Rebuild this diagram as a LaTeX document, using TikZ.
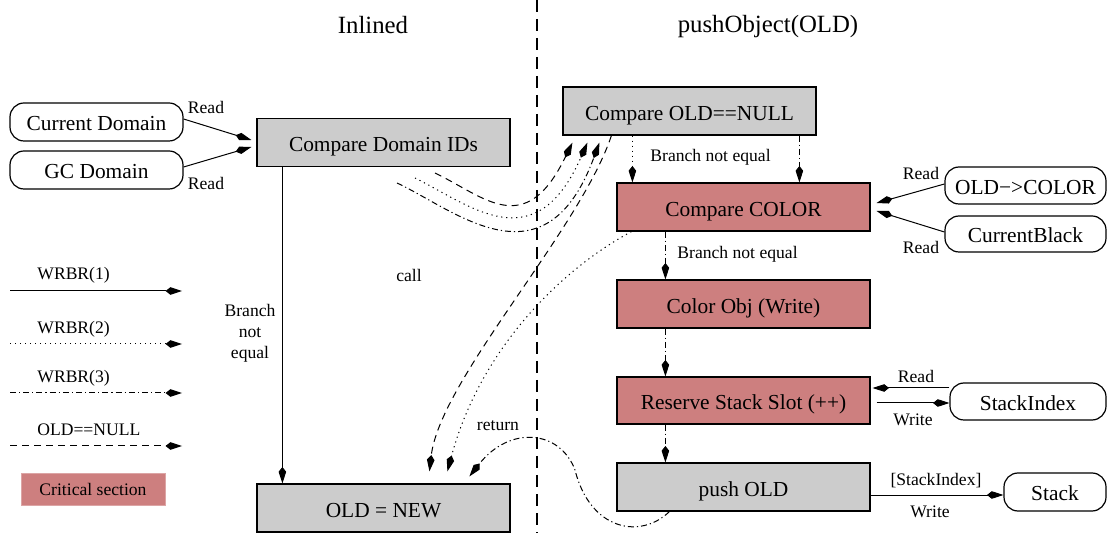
\documentclass[tikz,border=0pt]{standalone}
\usepackage{fontspec}
\setmainfont{Liberation Serif}
\usetikzlibrary{arrows.meta,calc}
\definecolor{crit}{RGB}{205,127,127}
\definecolor{plain}{RGB}{204,204,204}
\tikzset{
  stepbox/.style={draw, line width=0.6pt, minimum width=126.5pt, minimum height=24pt,
    inner sep=0pt, text height=9.5pt, text depth=0pt, font=\fontsize{10.7}{12}\selectfont},
  greybox/.style={stepbox, fill=plain},
  critbox/.style={stepbox, fill=crit},
  datum/.style={draw, line width=0.6pt, rounded corners=7pt, inner sep=0pt,
    minimum height=19pt, text height=9pt, text depth=0pt, font=\fontsize{10.7}{12}\selectfont},
  lbl/.style={font=\fontsize{8.8}{10.5}\selectfont, inner sep=0pt},
  ttl/.style={font=\fontsize{12.4}{14}\selectfont, inner sep=0pt},
  tip/.style={-{Kite[length=8.2pt,width=3.8pt,inset=2.4pt]}},
  wire/.style={line width=0.5pt},
  ldash/.style={dash pattern=on 3.5pt off 2.5pt},
  ldot/.style={dash pattern=on 0.6pt off 1.9pt},
  ldashdot/.style={dash pattern=on 3pt off 1.5pt on 0.6pt off 1.5pt},
}
\begin{document}
\begin{tikzpicture}[x=0.5pt,y=-0.5pt]
\useasboundingbox (0,0) rectangle (1107,533);

% column titles and divider
\node[ttl] (ttlA) at (373,25) {Inlined};
\node[ttl] (ttlB) at (768,27) {pushObject(OLD)};
\coordinate (divtop) at (537,0);
\coordinate (divbot) at (537,533);
\draw[line width=1pt, dash pattern=on 6pt off 3.5pt] (divtop) -- (divbot);

% boxes
\node[datum, minimum width=86.5pt] (cdom) at (96.5,122) {Current Domain};
\node[datum, minimum width=86.5pt] (gcdom) at (96.5,170) {GC Domain};
\node[greybox] (cmpdom) at (383.5,142.5) {Compare Domain IDs};
\node[greybox] (oldnew) at (383.5,508) {OLD = NEW};
\node[greybox] (cmpnull) at (689.5,111) {Compare OLD==NULL};
\node[critbox] (cmpcol) at (743.5,207) {Compare COLOR};
\node[critbox] (colobj) at (743.5,304) {Color Obj (Write)};
\node[critbox, minimum height=23.5pt] (reserve) at (743.5,400.5) {Reserve Stack Slot (++)};
\node[greybox] (pushold) at (743.5,487) {push OLD};
\node[datum, minimum width=80.5pt, minimum height=18.5pt] (oldcol) at (1025.5,185.5) {OLD−>COLOR};
\node[datum, minimum width=80.5pt, minimum height=18pt] (curblk) at (1025.5,234) {CurrentBlack};
\node[datum, minimum width=78pt, minimum height=18.5pt] (stkidx) at (1028,401.5) {StackIndex};
\node[datum, minimum width=51pt] (stk) at (1055,492) {Stack};

% reads and writes
\draw[wire,tip] ($(cdom.east)+(0,-3)$) -- ($(cmpdom.west)+(-5,-2.5)$);
\draw[wire,tip] ($(gcdom.east)+(0,-3)$) -- ($(cmpdom.west)+(-5,4.5)$);
\node[lbl] (rd1) at (206,107) {Read};
\node[lbl] (rd2) at (206,183) {Read};

\draw[wire,tip] ($(oldcol.west)+(0,-1.5)$) -- ($(cmpcol.east)+(6,-4)$);
\draw[wire,tip] ($(curblk.west)+(0,-2)$) -- ($(cmpcol.east)+(6,4)$);
\node[lbl] (rd3) at (921,173) {Read};
\node[lbl] (rd4) at (921,247) {Read};

\draw[wire,tip] ($(stkidx.west)+(0,-13.5)$) -- ($(reserve.east)+(2,-12.5)$);
\draw[wire,tip] ($(reserve.east)+(6,2.5)$) -- ($(stkidx.west)+(0,1.5)$);
\node[lbl] (rd5) at (916,376) {Read};
\node[lbl] (wr1) at (913,420) {Write};

\draw[wire,tip] ($(pushold.east)+(0,8)$) -- ($(stk.west)+(0,3)$);
\node[lbl] (sidx) at (936,481) {[StackIndex]};
\node[lbl] (wr2) at (930,512) {Write};

% control flow
\draw[wire,tip] ($(cmpdom.south west)+(26,0)$) -- ($(oldnew.north west)+(26,0)$);
\node[lbl, align=center] (bne1) at (250,333) {Branch\\not\\equal};

\draw[wire,ldot,tip] ($(cmpnull.south west)+(70,0)$) -- ($(cmpcol.north west)+(16,0)$);
\draw[wire,ldashdot,tip] ($(cmpnull.south west)+(237,0)$) -- ($(cmpcol.north west)+(183,0)$);
\node[lbl, anchor=west] (bne2) at (650,157) {Branch not equal};

\draw[wire,ldashdot,tip] ($(cmpcol.south west)+(49,0)$) -- ($(colobj.north west)+(49,0)$);
\node[lbl, anchor=west] (bne3) at (677,254) {Branch not equal};
\draw[wire,ldashdot,tip] ($(colobj.south west)+(49,0)$) -- ($(reserve.north west)+(49,0)$);
\draw[wire,ldashdot,tip] ($(reserve.south west)+(49,0)$) -- ($(pushold.north west)+(49,0)$);

% call into pushObject
\coordinate (callA) at (435,173);
\coordinate (callB) at (415,178);
\coordinate (callC) at (397,183);
\draw[wire,ldash,tip] (callA) .. controls (485,197) and (525,240) .. ($(cmpnull.south west)+(10,7)$);
\draw[wire,ldot,tip] (callB) .. controls (470,205) and (535,262) .. ($(cmpnull.south west)+(25,7)$);
\draw[wire,ldashdot,tip] (callC) .. controls (455,210) and (545,290) .. ($(cmpnull.south west)+(37,7)$);
\node[lbl] (calltxt) at (409,275) {call};

% return paths
\draw[wire,ldash,tip] ($(cmpnull.south west)+(49,0)$) .. controls (580,230) and (440,380) .. ($(oldnew.north west)+(173,-12)$);
\draw[wire,ldot,tip] ($(cmpcol.south west)+(15,0)$) .. controls (560,270) and (480,350) .. ($(oldnew.north west)+(191,-12)$);
\draw[wire,ldashdot,tip] ($(pushold.south west)+(53,0)$) .. controls (640,540) and (590,530) .. (575,470)
  .. controls (560,430) and (510,425) .. ($(oldnew.north west)+(213,-7)$);
\node[lbl] (rettxt) at (498,426) {return};

% legend
\coordinate (lgA0) at (10,291);  \coordinate (lgA1) at (182,291);
\coordinate (lgB0) at (10,344);  \coordinate (lgB1) at (182,344);
\coordinate (lgC0) at (10,393);  \coordinate (lgC1) at (182,393);
\coordinate (lgD0) at (10,446);  \coordinate (lgD1) at (182,446);
\draw[wire,tip] (lgA0) -- (lgA1);
\draw[wire,ldot,tip] (lgB0) -- (lgB1);
\draw[wire,ldashdot,tip] (lgC0) -- (lgC1);
\draw[wire,ldash,tip] (lgD0) -- (lgD1);
\node[lbl, anchor=west] (lgAt) at (37,275) {WRBR(1)};
\node[lbl, anchor=west] (lgBt) at (37,329) {WRBR(2)};
\node[lbl, anchor=west] (lgCt) at (37,378) {WRBR(3)};
\node[lbl, anchor=west] (lgDt) at (37,430) {OLD==NULL};
\node[lbl, fill=crit, draw=crit!70!white, line width=0.5pt, minimum width=72pt, minimum height=15.5pt] (lgcrit) at (93,489.5) {Critical section};
\end{tikzpicture}
\end{document}
